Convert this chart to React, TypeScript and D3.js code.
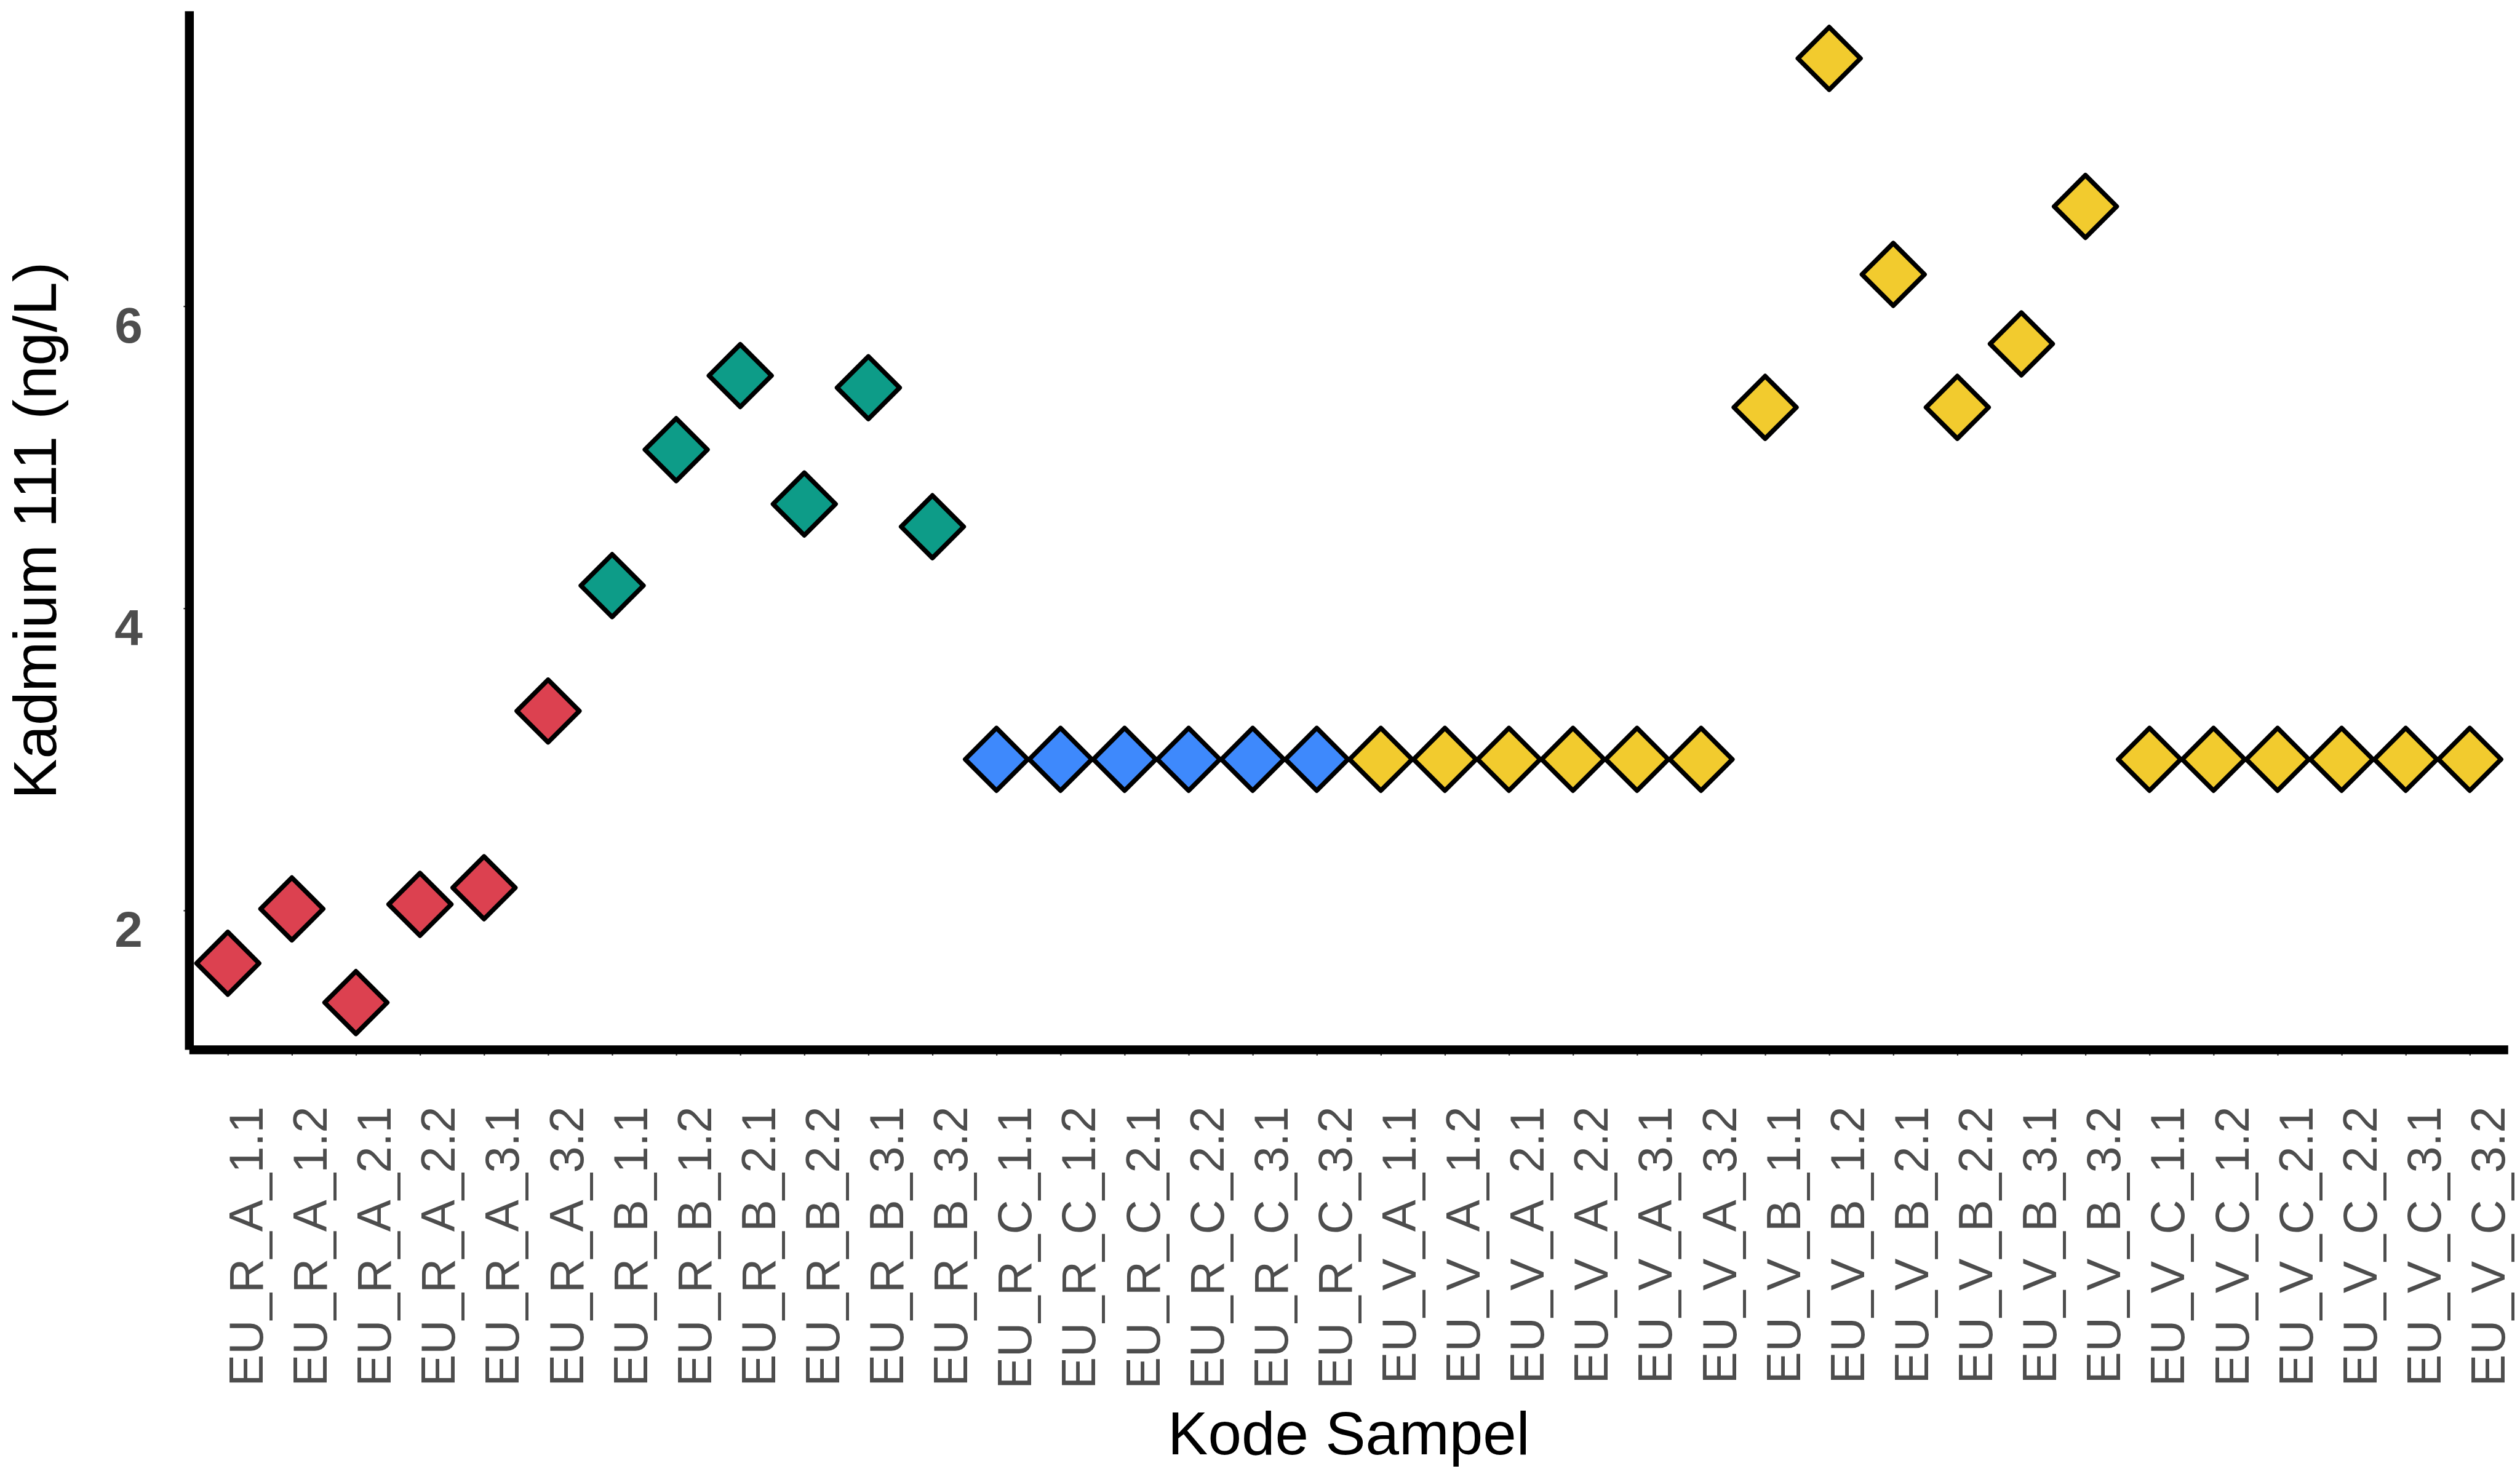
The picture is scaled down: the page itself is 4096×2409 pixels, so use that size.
import React, { useEffect, useRef } from 'react';
import * as d3 from 'd3';

// sample codes on the x axis
const sampleCodes = [
    'EU_R_A_1.1', 'EU_R_A_1.2', 'EU_R_A_2.1', 'EU_R_A_2.2', 'EU_R_A_3.1', 'EU_R_A_3.2',
    'EU_R_B_1.1', 'EU_R_B_1.2', 'EU_R_B_2.1', 'EU_R_B_2.2', 'EU_R_B_3.1', 'EU_R_B_3.2',
    'EU_R_C_1.1', 'EU_R_C_1.2', 'EU_R_C_2.1', 'EU_R_C_2.2', 'EU_R_C_3.1', 'EU_R_C_3.2',
    'EU_V_A_1.1', 'EU_V_A_1.2', 'EU_V_A_2.1', 'EU_V_A_2.2', 'EU_V_A_3.1', 'EU_V_A_3.2',
    'EU_V_B_1.1', 'EU_V_B_1.2', 'EU_V_B_2.1', 'EU_V_B_2.2', 'EU_V_B_3.1', 'EU_V_B_3.2',
    'EU_V_C_1.1', 'EU_V_C_1.2', 'EU_V_C_2.1', 'EU_V_C_2.2', 'EU_V_C_3.1', 'EU_V_C_3.2',
];

// Kadmium 111 (ng/L)
const cadmium = [
    1.65, 2.01, 1.39, 2.04, 2.15, 3.32,
    4.15, 5.05, 5.54, 4.69, 5.46, 4.54,
    3.00, 3.00, 3.00, 3.00, 3.00, 3.00,
    3.00, 3.00, 3.00, 3.00, 3.00, 3.00,
    5.33, 7.64, 6.21, 5.33, 5.75, 6.66,
    3.00, 3.00, 3.00, 3.00, 3.00, 3.00,
];

// colour group of each sample
const groups = [
    'RA', 'RA', 'RA', 'RA', 'RA', 'RA',
    'RB', 'RB', 'RB', 'RB', 'RB', 'RB',
    'RC', 'RC', 'RC', 'RC', 'RC', 'RC',
    'V', 'V', 'V', 'V', 'V', 'V',
    'V', 'V', 'V', 'V', 'V', 'V',
    'V', 'V', 'V', 'V', 'V', 'V',
];

const groupNames = ['RA', 'RB', 'RC', 'V'];
const groupColors = ['#dc4150', '#0d9c88', '#3e89fc', '#f2cb2e'];

const yTicks = [2, 4, 6];

const App = () => {
    const svgRef = useRef<SVGSVGElement>(null);

    useEffect(() => {
        document.body.style.margin = '0';
        document.body.style.overflow = 'hidden';

        const width = 4096;
        const height = 2409;
        const left = 307.8;
        const right = 4076.8;
        const top = 18.2;
        const bottom = 1706.4;

        const x = d3.scalePoint<string>()
            .domain(sampleCodes)
            .range([left, right])
            .padding(0.6);

        // ggplot-like 5% expansion around the data range
        const [lo, hi] = d3.extent(cadmium) as [number, number];
        const pad = (hi - lo) * 0.05;
        const y = d3.scaleLinear()
            .domain([lo - pad, hi + pad])
            .range([bottom, top]);

        const color = d3.scaleOrdinal<string, string>()
            .domain(groupNames)
            .range(groupColors);

        const svg = d3.select(svgRef.current);
        svg.selectAll('*').remove();

        svg
            .attr('width', width)
            .attr('height', height)
            .style('display', 'block')
            .style('font-family', '"Liberation Sans", Arial, sans-serif');

        svg.append('rect')
            .attr('width', width)
            .attr('height', height)
            .attr('fill', '#ffffff');

        // x axis
        const xAxis = svg.append('g')
            .attr('transform', `translate(0, ${bottom})`)
            .call(d3.axisBottom(x).tickSize(9.4));
        xAxis.select('.domain').remove();
        xAxis.selectAll('.tick line')
            .attr('stroke', '#333333')
            .attr('stroke-width', 2.2);
        xAxis.selectAll('.tick text')
            .attr('transform', 'rotate(-90)')
            .attr('x', -92)
            .attr('y', 0)
            .attr('dy', '0.72em')
            .attr('fill', '#4d4d4d')
            .attr('font-size', 78)
            .style('text-anchor', 'end');

        // y axis
        const yAxis = svg.append('g')
            .attr('transform', `translate(${left}, 0)`)
            .call(d3.axisLeft(y).tickValues(yTicks).tickFormat(d3.format('d')).tickSize(9.4));
        yAxis.select('.domain').remove();
        yAxis.selectAll('.tick line')
            .attr('stroke', '#333333')
            .attr('stroke-width', 2.2);
        yAxis.selectAll('.tick text')
            .attr('x', -76)
            .attr('dy', '0.72em')
            .attr('fill', '#4d4d4d')
            .attr('font-size', 82)
            .attr('font-weight', 'bold');

        // axis lines
        svg.append('line')
            .attr('x1', left).attr('x2', left)
            .attr('y1', top).attr('y2', bottom)
            .attr('stroke', '#000000')
            .attr('stroke-width', 14.5);
        svg.append('line')
            .attr('x1', left).attr('x2', right)
            .attr('y1', bottom).attr('y2', bottom)
            .attr('stroke', '#000000')
            .attr('stroke-width', 14.5);

        // points
        const diamond = d3.symbol().type(d3.symbolSquare).size(5166);
        svg.append('g')
            .selectAll('path')
            .data(sampleCodes)
            .join('path')
            .attr('transform', (d, i) => `translate(${x(d)}, ${y(cadmium[i])}) rotate(45)`)
            .attr('d', diamond)
            .attr('fill', (_, i) => color(groups[i]))
            .attr('stroke', '#000000')
            .attr('stroke-width', 7.6)
            .attr('stroke-linejoin', 'round');

        // titles
        svg.append('text')
            .attr('x', (left + right) / 2)
            .attr('y', 2364)
            .attr('text-anchor', 'middle')
            .attr('font-size', 98)
            .attr('fill', '#000000')
            .text('Kode Sampel');

        svg.append('text')
            .attr('transform', `translate(91, ${(top + bottom) / 2}) rotate(-90)`)
            .attr('text-anchor', 'middle')
            .attr('font-size', 98)
            .attr('fill', '#000000')
            .text('Kadmium 111 (ng/L)');
    }, []);

    return <svg ref={svgRef}></svg>;
};

export default App;
